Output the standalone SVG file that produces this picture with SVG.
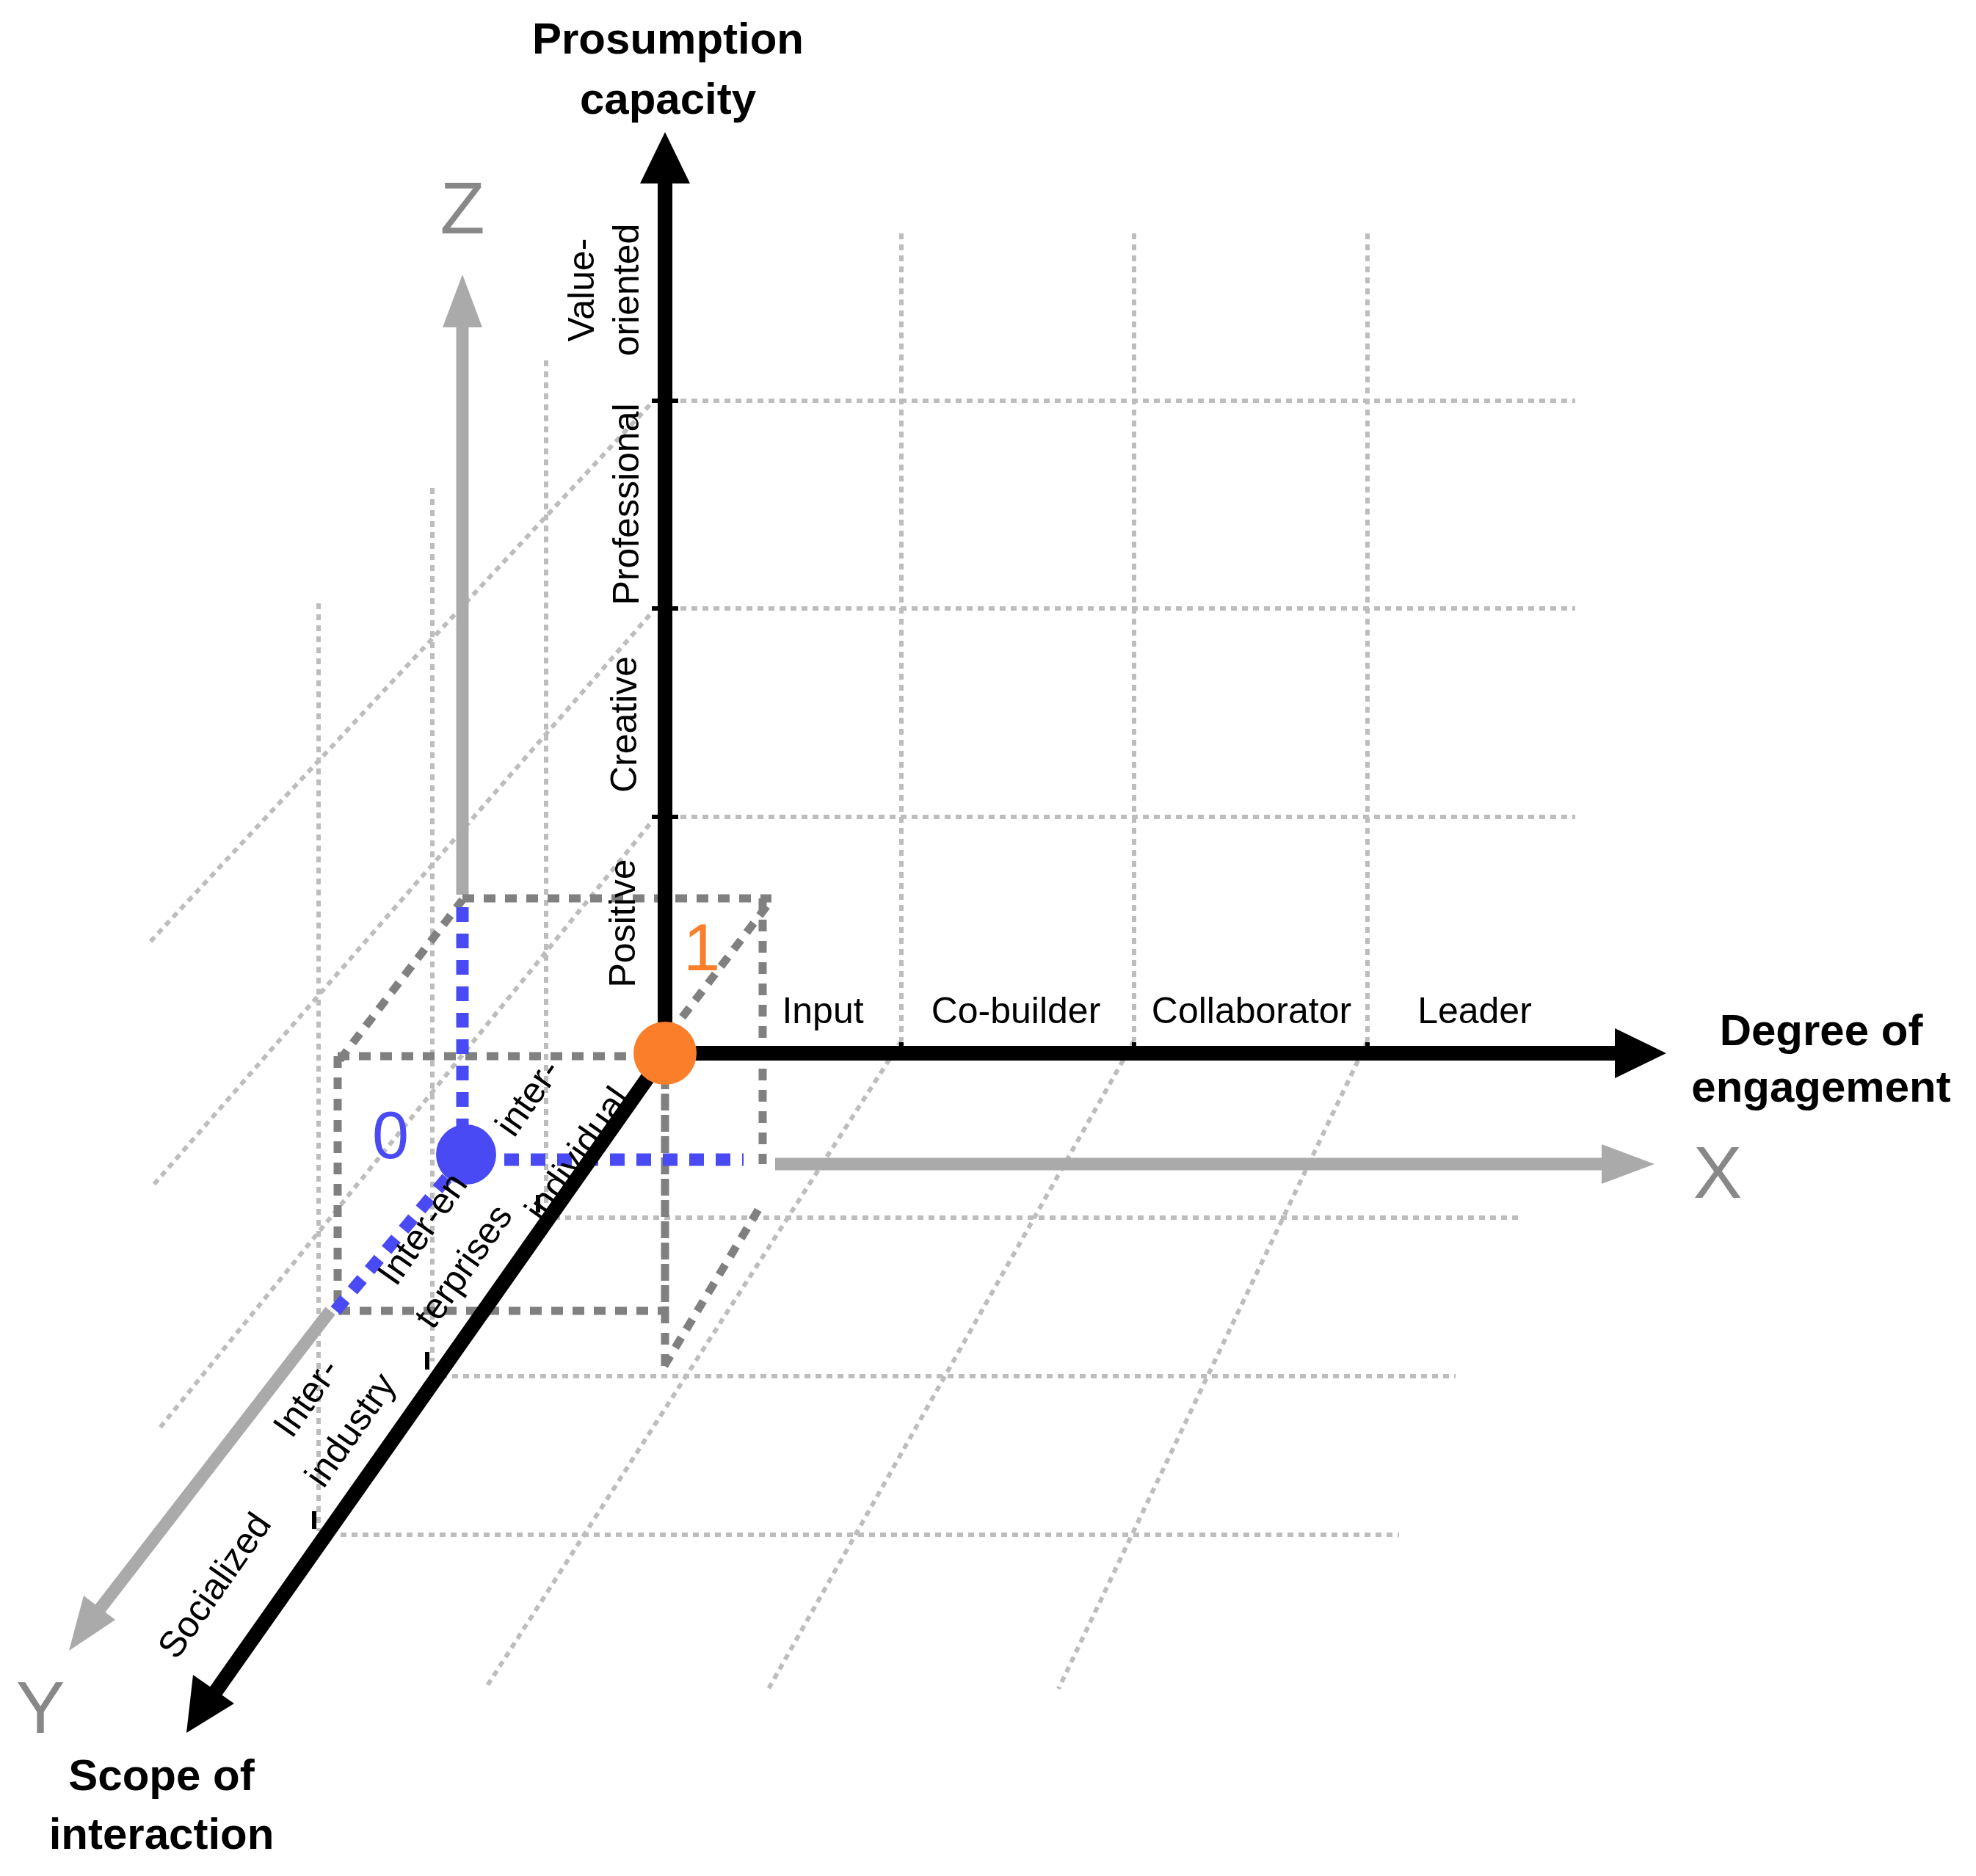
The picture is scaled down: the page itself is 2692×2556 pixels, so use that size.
<svg xmlns="http://www.w3.org/2000/svg" width="2692" height="2556" viewBox="0 0 2692 2556">
<style>
.lg{stroke:#bdbdbd;stroke-width:6;stroke-dasharray:8 7;fill:none}
.dg{stroke:#808080;stroke-width:11;stroke-dasharray:16 13;fill:none}
.bl{stroke:#4a4af5;stroke-width:17;stroke-dasharray:20 16;fill:none}
.ax{stroke:#000;stroke-width:20;fill:none}
.gx{stroke:#aaa;stroke-width:17;fill:none}
.tk{stroke:#000;stroke-width:6}
.t{font-family:"Liberation Sans",Arial,sans-serif;font-size:50px;fill:#000;text-anchor:middle;dominant-baseline:central}
.b{font-family:"Liberation Sans",Arial,sans-serif;font-size:60px;font-weight:bold;fill:#000;text-anchor:middle;dominant-baseline:central}
.g{font-family:"Liberation Sans",Arial,sans-serif;font-size:100px;fill:#888;text-anchor:middle;dominant-baseline:central}
</style>
<g id="grid">
<line class="lg" x1="927" y1="546" x2="2146" y2="546"/>
<line class="lg" x1="927" y1="829" x2="2146" y2="829"/>
<line class="lg" x1="927" y1="1113" x2="2146" y2="1113"/>
<line class="lg" x1="1228" y1="318" x2="1228" y2="1418"/>
<line class="lg" x1="1545" y1="318" x2="1545" y2="1418"/>
<line class="lg" x1="1863" y1="318" x2="1863" y2="1418"/>
<line class="lg" x1="744" y1="491" x2="744" y2="1648"/>
<line class="lg" x1="589" y1="665" x2="589" y2="1855"/>
<line class="lg" x1="434" y1="822" x2="434" y2="2086"/>
<line class="lg" x1="885" y1="552" x2="201" y2="1287"/>
<line class="lg" x1="885" y1="838" x2="206" y2="1618"/>
<line class="lg" x1="885" y1="1123" x2="214" y2="1950"/>
<line class="lg" x1="755" y1="1659" x2="2069" y2="1659"/>
<line class="lg" x1="601" y1="1875" x2="1983" y2="1875"/>
<line class="lg" x1="464" y1="2091" x2="1906" y2="2091"/>
<line class="lg" x1="1228" y1="1418" x2="661" y2="2301"/>
<line class="lg" x1="1545" y1="1418" x2="1047" y2="2301"/>
<line class="lg" x1="1863" y1="1418" x2="1442" y2="2301"/>
</g>
<g id="connectors">
<line class="gx" x1="630" y1="1219" x2="630" y2="440"/>
<polygon points="630,374 603,446 657,446" fill="#aaa"/>
<line class="gx" x1="1056" y1="1586" x2="2195" y2="1586"/>
<polygon points="2254,1586 2182,1559 2182,1613" fill="#aaa"/>
<line class="gx" x1="450" y1="1786" x2="130" y2="2200"/>
<polygon points="94,2249 114,2174 157,2207" fill="#aaa"/>
<path class="dg" d="M630,1224 H1051 M1039,1224 V1586 M460,1439 H906 M460,1439 V1786 H906 V1439 M463,1444 L630,1226 M912,1409 L1051,1226 M905,1861 L1038,1640 M906,1439 V1861"/>
<path class="bl" d="M630,1236 V1545 M687,1580 H1013 M609,1605 L450,1794"/>
<line class="ax" x1="906" y1="1435" x2="906" y2="240"/>
<polygon points="906,180 872,250 940,250" fill="#000"/>
<line class="ax" x1="906" y1="1435" x2="2210" y2="1435"/>
<polygon points="2270,1435 2200,1401 2200,1469" fill="#000"/>
<line class="ax" x1="906" y1="1435" x2="290" y2="2310"/>
<polygon points="254,2361 263,2282 319,2321" fill="#000"/>
<path class="tk" d="M888,546 H924 M888,829 H924 M888,1113 H924 M1228,1420 V1440 M1545,1420 V1440 M1863,1420 V1440 M733,1628 V1652 M582,1842 V1866 M428,2059 V2083"/>
</g>
<g id="origin1"><circle cx="906" cy="1435" r="43" fill="#fb7f2a"/><text class="t" x="956" y="1291" style="font-size:90px;fill:#fb7f2a">1</text></g>
<g id="origin0"><circle cx="635" cy="1573" r="41" fill="#4a4af5"/><text class="t" x="532" y="1547" style="font-size:90px;fill:#4a4af5">0</text></g>
<g id="labels">
<text class="b" x="910" y="52">Prosumption</text>
<text class="b" x="910" y="134">capacity</text>
<text class="b" x="2481" y="1403">Degree of</text>
<text class="b" x="2481" y="1480">engagement</text>
<text class="b" x="220" y="2418">Scope of</text>
<text class="b" x="220" y="2498">interaction</text>
<text class="g" x="630" y="283">Z</text>
<text class="g" x="2340" y="1597">X</text>
<text class="g" x="55" y="2326">Y</text>
<text class="t" x="1121" y="1377">Input</text>
<text class="t" x="1384" y="1377">Co-builder</text>
<text class="t" x="1705" y="1377">Collaborator</text>
<text class="t" x="2009" y="1377">Leader</text>
<text class="t" transform="translate(848,1258) rotate(-90)">Positive</text>
<text class="t" transform="translate(850,987) rotate(-90)">Creative</text>
<text class="t" transform="translate(853,687) rotate(-90)">Professional</text>
<text class="t" transform="translate(853,395) rotate(-90)">oriented</text>
<text class="t" transform="translate(792,395) rotate(-90)">Value-</text>
<text class="t" transform="translate(719,1495) rotate(-55)">inter-</text>
<text class="t" transform="translate(786,1572) rotate(-55)">individual</text>
<text class="t" transform="translate(575,1674) rotate(-55)">Inter-en</text>
<text class="t" transform="translate(631,1725) rotate(-55)">terprises</text>
<text class="t" transform="translate(417,1904) rotate(-55)">Inter-</text>
<text class="t" transform="translate(477,1948) rotate(-55)">industry</text>
<text class="t" transform="translate(292,2160) rotate(-55)">Socialized</text>
</g>
</svg>
